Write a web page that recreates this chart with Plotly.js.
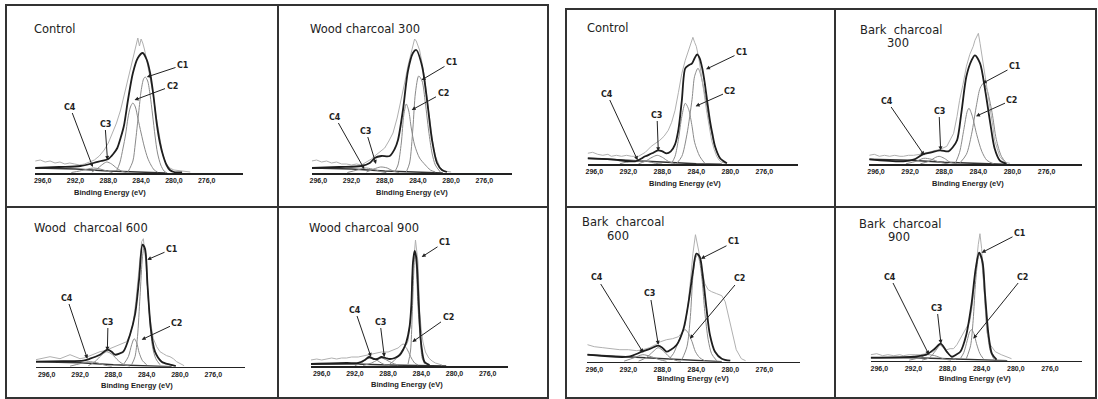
<!DOCTYPE html>
<html><head><meta charset="utf-8">
<script src="https://cdn.plot.ly/plotly-3.0.1.min.js"></script>
<style>html,body{margin:0;padding:0;background:#fff;}#chart{width:1098px;height:399px;}</style>
</head><body><div id="chart"></div>
<script>
// ---------- DATA (binding energy eV, intensity in arbitrary units) ----------
const tickVals = [296,292,288,284,280,276];
const tickText = ['296,0','292,0','288,0','284,0','280,0','276,0'];
const panelTitles = [['Control'],['Wood charcoal 300'],['Control'],['Bark\u00a0\u00a0charcoal','300'],
  ['Wood\u00a0\u00a0charcoal 600'],['Wood charcoal 900'],['Bark\u00a0\u00a0charcoal','600'],['Bark\u00a0\u00a0charcoal','900']];
const xTitle = 'Binding Energy (eV)';

// Panel 1: Control (wood side)
const p1_raw = [[296.9,12],[296.3,13],[295.7,11],[295.1,12],[294.5,10],[293.9,11],[293.3,9],[292.7,10],[292.1,9],[291.5,8],[290.9,9],[290.3,11],[289.7,13],[289.1,17],[288.5,23],[288.0,30],[287.5,40],[287.0,50],[286.5,63],[286.0,80],[285.5,95],[285.0,112],[284.6,128],[284.4,135],[284.2,127],[284.0,134],[283.8,130],[283.6,124],[283.3,112],[283.0,100],[282.6,82],[282.2,58],[281.8,38],[281.4,20],[281.0,10],[280.5,5],[280.0,3],[279.0,2],[278.0,1]];
const p1_env = [[296.9,5],[294.0,6],[291.4,7],[289.8,10],[288.9,12],[288.0,14],[287.4,19],[286.9,25],[286.5,35],[286.1,47],[285.6,73],[285.0,100],[284.4,115],[283.8,120],[283.3,113],[282.9,100],[282.5,78],[282.1,50],[281.7,30],[281.3,17],[280.9,8],[280.5,3],[280.0,1],[279.0,0.5]];
const p1_c1 = [[285.6,1],[285.0,12],[284.7,30],[284.3,60],[284.0,82],[283.7,94],[283.5,96],[283.2,92],[282.9,78],[282.6,58],[282.3,37],[282.0,20],[281.6,8],[281.2,2],[280.8,0]];
const p1_c2 = [[287.0,2],[286.6,10],[286.2,25],[285.9,38],[285.6,55],[285.3,66],[285.0,70],[284.7,66],[284.4,55],[284.0,40],[283.6,26],[283.2,15],[282.8,8],[282.4,3],[282.0,1]];
const p1_c3 = [[290.0,1],[289.4,4],[288.8,8],[288.2,11],[287.6,9],[287.0,5],[286.4,2],[285.8,0.5]];
const p1_c4 = [[292.5,0.5],[291.5,2],[290.5,4],[289.8,5],[289.0,4],[288.2,2],[287.5,0.5]];
const p1_base = [[296.9,5],[292,4],[288,2],[284,0.5],[281,0]];

// Panel 2: Wood charcoal 300
const p2_raw = [[296.8,12],[296.2,13],[295.6,11],[295.0,12],[294.4,10],[293.8,11],[293.2,9],[292.6,9],[292.0,8],[291.4,9],[290.8,8],[290.2,11],[289.6,14],[289.2,17],[288.6,21],[288.0,25],[287.5,32],[287.0,40],[286.5,55],[286.0,73],[285.6,90],[285.2,107],[284.9,118],[284.6,127],[284.4,134],[284.2,132],[284.0,128],[283.8,123],[283.5,110],[283.1,90],[282.8,68],[282.5,47],[282.2,30],[281.9,17],[281.6,10],[281.3,5],[280.8,2],[280.0,1]];
const p2_env = [[296.8,5],[293.5,6],[290.8,7],[289.8,10],[289.2,15],[288.4,17],[287.4,17],[286.8,24],[286.4,33],[285.8,63],[285.2,102],[284.6,120],[284.2,123],[283.5,107],[282.9,73],[282.3,33],[281.7,10],[281.1,3],[280.5,1]];
const p2_c1 = [[285.4,1],[285.0,10],[284.6,45],[284.3,80],[283.9,97],[283.5,92],[283.1,70],[282.7,42],[282.3,20],[281.9,8],[281.3,1]];
const p2_c2 = [[286.8,1],[286.4,8],[286.0,30],[285.7,58],[285.4,69],[285.1,62],[284.8,45],[284.4,28],[283.8,15],[283.1,8],[282.5,3],[281.9,1]];
const p2_c3 = [[290.2,1],[289.3,4],[288.5,6],[287.7,5],[287.0,2],[286.3,0.5]];
const p2_c4 = [[292.5,0.5],[291.3,3],[290.4,5],[289.5,4],[288.5,1.5],[287.8,0.3]];
const p2_base = [[296.8,5],[292,4],[288,2],[284,0.5],[281,0]];

// Panel 3: Control (bark side)
const p3_raw = [[296.8,11],[296.2,12],[295.6,10],[295.0,9],[294.4,10],[294.0,8],[293.4,9],[292.8,8],[292.2,9],[291.6,8],[290.8,8],[290.0,12],[289.3,18],[288.8,21],[288.3,24],[287.8,28],[287.3,34],[286.9,42],[286.5,54],[286.1,72],[285.7,91],[285.3,104],[284.9,114],[284.6,121],[284.4,127],[284.2,122],[284.0,118],[283.7,106],[283.4,91],[283.1,72],[282.8,54],[282.5,38],[282.2,24],[281.9,15],[281.6,8],[281.3,4],[281.0,2],[280.4,1]];
const p3_env = [[296.8,6],[294.0,5],[291.2,3],[290.0,8],[289.2,11],[288.5,14],[288.0,13],[287.5,11],[287.0,13],[286.5,20],[286.1,35],[285.7,64],[285.3,96],[284.9,99],[284.5,101],[284.2,106],[283.9,110],[283.6,106],[283.3,96],[283.0,81],[282.7,62],[282.4,44],[282.1,30],[281.8,18],[281.2,6],[280.4,1]];
const p3_c1 = [[286.3,1],[285.7,8],[285.1,30],[284.5,65],[284.2,88],[283.8,96],[283.5,90],[283.0,70],[282.4,40],[281.8,18],[281.2,6],[280.6,1]];
const p3_c2 = [[286.9,1],[286.5,8],[286.1,25],[285.7,48],[285.3,61],[284.9,55],[284.5,38],[284.2,22],[283.6,8],[283.0,1]];
const p3_c3 = [[290.8,0.5],[290.0,3],[289.2,7],[288.6,9],[288.0,7],[287.3,3],[286.5,0.5]];
const p3_c4 = [[293.0,0.5],[291.8,3],[290.8,4],[289.8,3],[288.8,1],[288.0,0.2]];
const p3_base = [[296.8,6],[292,4],[288,2],[284,0.5],[281,0]];

// Panel 4: Bark charcoal 300
const p4_raw = [[296.8,9],[296.2,10],[295.6,8],[295.0,9],[294.4,8],[293.8,9],[293.2,8],[292.8,8],[292.2,9],[291.6,9],[290.8,10],[290.0,12],[289.3,13],[288.5,15],[287.7,18],[287.3,24],[286.9,31],[286.5,48],[286.2,64],[285.8,80],[285.4,98],[285.0,110],[284.6,118],[284.4,124],[284.2,128],[284.0,131],[283.8,121],[283.5,105],[283.2,88],[282.9,70],[282.6,54],[282.3,38],[282.1,24],[281.8,15],[281.5,8],[280.9,2],[280.3,1]];
const p4_env = [[296.8,5],[292.8,3],[291.5,5],[290.5,10],[289.5,12],[288.5,14],[287.5,13],[287.0,17],[286.5,24],[286.0,51],[285.4,88],[284.8,104],[284.4,109],[283.8,101],[283.2,74],[282.6,41],[282.1,16],[281.5,4],[280.7,0.5]];
const p4_c1 = [[286.2,1],[285.4,10],[284.8,30],[284.2,60],[283.8,76],[283.4,81],[283.0,75],[282.4,52],[281.9,25],[281.3,8],[280.7,1]];
const p4_c2 = [[286.7,1],[286.2,12],[285.7,35],[285.3,53],[285.1,56],[284.7,48],[284.2,30],[283.6,13],[283.0,4],[282.2,0.5]];
const p4_c3 = [[290.8,0.5],[289.8,3],[289.0,7],[288.6,8],[288.0,6],[287.3,2],[286.5,0.5]];
const p4_c4 = [[292.5,0.5],[291.3,3],[290.4,6],[289.5,5],[288.5,2],[287.5,0.3]];
const p4_base = [[296.8,5],[292,4],[288,2],[284,0.5],[281,0]];

// Panel 5: Wood charcoal 600
const p5_raw = [[297.3,7],[296.8,8],[296.2,9],[295.6,10],[295.0,9],[294.4,8],[293.8,10],[293.2,12],[292.6,10],[292.0,8],[291.4,9],[290.8,11],[290.2,13],[289.6,15],[289.0,16],[288.4,18],[287.8,20],[287.2,22],[286.8,23],[286.4,25],[286.0,32],[285.6,45],[285.3,65],[285.0,88],[284.8,108],[284.6,125],[284.4,128],[284.2,112],[284.1,105],[283.9,80],[283.7,55],[283.4,38],[283.2,28],[282.8,20],[282.4,15],[282.0,13],[281.6,11],[281.2,10],[280.8,8],[280.4,5],[280.0,3],[279.5,1]];
const p5_env = [[297.3,5],[294.0,5.5],[291.6,6],[290.8,8],[289.6,12],[288.7,17],[288.2,15],[287.8,12],[287.3,13],[286.8,15],[286.0,32],[285.4,52],[284.9,88],[284.5,122],[284.2,118],[283.9,82],[283.5,38],[283.0,15],[282.2,5],[281.2,2],[280.5,0.5]];
const p5_c1 = [[285.8,2],[285.4,10],[285.1,30],[284.8,70],[284.5,110],[284.3,120],[284.1,112],[283.9,80],[283.6,45],[283.3,20],[282.9,8],[282.4,2]];
const p5_c2 = [[286.8,2],[286.2,10],[285.8,22],[285.5,28],[285.2,24],[284.9,14],[284.5,6],[284.0,2]];
const p5_c3 = [[291.0,1],[290.2,5],[289.5,11],[288.8,15],[288.1,12],[287.4,6],[286.7,2],[286.0,0.5]];
const p5_c4 = [[293.2,0.5],[292.0,3],[291.0,5],[290.0,4],[289.0,1.5],[288.2,0.3]];
const p5_base = [[297.3,5],[292,4],[288,2],[284,0.5],[281,0]];

// Panel 6: Wood charcoal 900
const p6_raw = [[297.3,6],[296.6,7],[296.0,6],[295.4,7],[294.8,8],[294.2,7],[293.6,8],[293.0,8],[292.4,9],[291.6,9],[291.0,10],[290.4,11],[289.6,13],[288.8,14],[288.0,14],[287.4,16],[286.8,18],[286.4,21],[286.2,22],[285.8,21],[285.6,25],[285.4,38],[285.2,60],[285.1,88],[284.9,110],[284.8,121],[284.7,126],[284.55,115],[284.4,104],[284.3,80],[284.2,54],[284.0,36],[283.8,24],[283.5,14],[283.1,8],[282.7,5],[282.3,3],[281.5,1]];
const p6_env = [[297.3,2],[293.0,3],[291.6,3],[290.8,6],[290.3,9],[289.7,7],[289.3,7],[288.8,9],[288.3,8],[287.8,7],[287.2,8],[286.6,11],[286.2,16],[285.8,24],[285.4,40],[285.2,61],[285.0,104],[284.8,115],[284.6,108],[284.3,61],[284.0,21],[283.6,4],[283.0,1]];
const p6_c1 = [[285.6,2],[285.3,15],[285.1,50],[284.9,95],[284.75,114],[284.6,100],[284.4,60],[284.1,25],[283.9,8],[283.6,2]];
const p6_c2 = [[287.8,2],[287.2,6],[286.6,12],[286.2,17],[285.9,19],[285.6,15],[285.2,8],[284.8,3],[284.4,1]];
const p6_c3 = [[291.0,0.5],[290.0,3],[289.3,6],[288.8,8],[288.2,6],[287.5,3],[286.8,1]];
const p6_c4 = [[292.0,0.5],[291.2,3],[290.6,7],[290.0,8],[289.4,6],[288.6,2],[287.8,0.3]];
const p6_base = [[297.3,2],[292,2],[288,1],[284,0.3],[281,0]];

// Panel 7: Bark charcoal 600
const p7_raw = [[296.8,17],[296.0,15],[295.0,14],[294.0,13],[293.0,12],[292.0,12],[291.0,11],[290.3,12],[289.5,14],[288.8,17],[288.2,20],[287.5,22],[286.8,23],[286.1,25],[285.6,30],[285.3,37],[285.0,55],[284.7,80],[284.4,108],[284.1,127],[283.9,120],[283.7,110],[283.4,95],[283.0,78],[282.6,72],[282.2,70],[281.6,68],[281.0,66],[280.6,60],[280.2,45],[279.8,28],[279.3,12],[278.7,3],[278.2,1]];
const p7_env = [[296.8,7],[292.0,5],[290.4,10],[289.4,13],[288.5,16],[288.0,14],[287.5,10],[287.0,12],[286.3,17],[285.5,33],[284.9,60],[284.4,90],[284.0,108],[283.6,105],[283.2,83],[282.8,53],[282.4,27],[281.8,10],[281.0,3],[280.0,1]];
const p7_c1 = [[285.7,2],[285.1,15],[284.7,45],[284.4,85],[284.1,103],[283.85,107],[283.6,100],[283.3,80],[283.0,50],[282.6,22],[282.2,8],[281.6,1]];
const p7_c2 = [[287.3,2],[286.7,8],[286.1,20],[285.6,30],[285.3,32],[284.9,28],[284.5,20],[284.1,10],[283.6,4],[283.0,1]];
const p7_c3 = [[290.8,0.5],[289.9,4],[289.1,10],[288.5,14],[287.9,11],[287.2,5],[286.5,1.5],[285.8,0.3]];
const p7_c4 = [[292.5,0.5],[291.3,4],[290.3,7],[289.3,5],[288.3,2],[287.5,0.3]];
const p7_base = [[296.8,7],[292,5],[288,3],[284,1],[281,0]];

// Panel 8: Bark charcoal 900
const p8_raw = [[297.0,6],[296.3,7],[295.6,5],[295.0,6],[294.3,5],[293.6,6],[293.2,5],[292.5,6],[291.8,6],[291.2,6],[290.5,7],[289.7,9],[289.2,13],[288.9,16],[288.5,13],[288.1,11],[287.7,12],[287.3,12],[286.9,16],[286.5,22],[286.0,29],[285.7,34],[285.4,39],[285.1,55],[284.8,82],[284.6,100],[284.4,116],[284.2,127],[284.0,112],[283.85,90],[283.7,66],[283.4,29],[283.0,16],[282.4,9],[281.7,6],[281.1,4],[280.5,2]];
const p8_env = [[297.0,3],[292.0,4],[290.5,6],[289.5,12],[288.8,17],[288.1,9],[287.5,4],[287.0,6],[286.5,9],[285.8,26],[285.2,56],[284.7,92],[284.3,108],[283.9,99],[283.6,66],[283.2,26],[282.8,7],[282.25,1]];
const p8_c1 = [[285.8,2],[285.3,15],[285.0,40],[284.7,80],[284.4,103],[284.2,107],[284.0,100],[283.7,70],[283.4,35],[283.0,10],[282.6,2]];
const p8_c2 = [[286.5,2],[286.1,8],[285.7,20],[285.4,29],[285.2,31],[284.9,27],[284.6,17],[284.2,7],[283.8,2]];
const p8_c3 = [[291.0,0.5],[290.1,3],[289.4,10],[288.8,16],[288.2,11],[287.6,4],[287.0,1]];
const p8_c4 = [[292.5,0.5],[291.3,3],[290.4,6],[289.5,5],[288.5,2],[287.6,0.3]];
const p8_base = [[297.0,3],[292,3],[288,2],[284,0.5],[281,0]];

// Peak label targets: [label, energy, intensity]
const p1_labels = [['C1',283.3,96],['C2',284.8,73],['C3',288.1,13],['C4',289.9,6]];
const p2_labels = [['C1',283.55,93],['C2',284.75,63],['C3',289.05,9],['C4',290.46,4]];
const p3_labels = [['C1',282.86,95],['C2',284.08,58],['C3',288.47,13],['C4',290.9,4]];
const p4_labels = [['C1',283.5,81],['C2',284.28,48],['C3',288.42,14],['C4',290.34,9]];
const p5_labels = [['C1',283.92,107],['C2',284.6,27],['C3',288.72,16],['C4',291.12,8]];
const p6_labels = [['C1',283.95,109],['C2',285.08,24],['C3',288.45,9],['C4',290.06,9]];
const p7_labels = [['C1',283.45,103],['C2',284.75,23],['C3',288.47,17],['C4',290.24,9]];
const p8_labels = [['C1',284.0,108],['C2',284.98,22],['C3',288.77,17],['C4',290.18,6]];

// ---------- LAYOUT GEOMETRY (pixels) ----------
const W = 1098, H = 399, YH = 150;
const geom = [
  {ay:173,   xl:35,    xr:243,    x296:42.7,  ppe:8.2,  tx:32,  ty:29,  t2:null,      atx:110, aty:193, lab:[[183,65],[172,86],[105,124],[70,107]]},
  {ay:173,   xl:312,   xr:512,    x296:318.3, ppe:8.3,  tx:308, ty:29,  t2:null,      atx:412, aty:193, lab:[[452,62],[443,93],[366,131],[335,117]]},
  {ay:164.3, xl:587.7, xr:798.3,  x296:594.3, ppe:8.5,  tx:585, ty:28,  t2:null,      atx:685, aty:183, lab:[[742,52],[730,91],[657,115],[607,94]]},
  {ay:164.3, xl:869.3, xr:1081.7, x296:876,   ppe:8.53, tx:858, ty:30,  t2:[885,43],  atx:968, aty:183, lab:[[1015,66],[1012,100],[939,111],[887,101]]},
  {ay:366.7, xl:36,    xr:245,    x296:46.7,  ppe:8.33, tx:32,  ty:228, t2:null,      atx:137, aty:385, lab:[[172,249],[177,323],[108,322],[67,298]]},
  {ay:366,   xl:311,   xr:508.3,  x296:321.7, ppe:8.3,  tx:307, ty:228, t2:null,      atx:407, aty:384, lab:[[445,242],[448,317],[380,322],[355,310]]},
  {ay:361.7, xl:586.7, xr:800,    x296:594.3, ppe:8.5,  tx:580, ty:222, t2:[605,236], atx:693, aty:378, lab:[[734,242],[740,279],[650,294],[597,278]]},
  {ay:360.7, xl:870.7, xr:1081.7, x296:879.3, ppe:8.53, tx:857, ty:224, t2:[886,237], atx:975, aty:378, lab:[[1020,233],[1023,277],[937,308],[890,277]]}
];
const panelData = [
  [p1_base,p1_c1,p1_c2,p1_c3,p1_c4,p1_raw,p1_env,p1_labels],
  [p2_base,p2_c1,p2_c2,p2_c3,p2_c4,p2_raw,p2_env,p2_labels],
  [p3_base,p3_c1,p3_c2,p3_c3,p3_c4,p3_raw,p3_env,p3_labels],
  [p4_base,p4_c1,p4_c2,p4_c3,p4_c4,p4_raw,p4_env,p4_labels],
  [p5_base,p5_c1,p5_c2,p5_c3,p5_c4,p5_raw,p5_env,p5_labels],
  [p6_base,p6_c1,p6_c2,p6_c3,p6_c4,p6_raw,p6_env,p6_labels],
  [p7_base,p7_c1,p7_c2,p7_c3,p7_c4,p7_raw,p7_env,p7_labels],
  [p8_base,p8_c1,p8_c2,p8_c3,p8_c4,p8_raw,p8_env,p8_labels]
];

const FONT = 'Arial, "Liberation Sans", Helvetica, sans-serif';
const WIDEFONT = '"DejaVu Sans", Verdana, sans-serif';
const fx = px => px / W;
const fy = py => 1 - py / H;

const traces = [];
const layout = {
  width: W, height: H, margin: {l:0, r:0, t:0, b:0},
  paper_bgcolor: '#fff', plot_bgcolor: 'rgba(0,0,0,0)',
  showlegend: false, font: {family: FONT, color: '#222'},
  annotations: [], shapes: []
};

const styles = [
  {color:'#333', width:1.4, shape:'linear'},   // baseline
  {color:'#8a8a8a', width:1, shape:'spline'},  // C1
  {color:'#8a8a8a', width:1, shape:'spline'},  // C2
  {color:'#8a8a8a', width:1, shape:'spline'},  // C3
  {color:'#8a8a8a', width:1, shape:'spline'},  // C4
  {color:'#b0b0b0', width:1, shape:'linear'},  // raw
  {color:'#1e1e1e', width:1.8, shape:'spline'} // envelope
];

geom.forEach((g, i) => {
  const sfx = i === 0 ? '' : String(i + 1);
  const eLeft = 296 + (g.x296 - g.xl) / g.ppe;
  const eRight = 296 - (g.xr - g.x296) / g.ppe;
  layout['xaxis' + sfx] = {
    domain: [fx(g.xl), fx(g.xr)], range: [eLeft, eRight], anchor: 'y' + sfx,
    showline: true, linecolor: '#222', linewidth: 1.6, showgrid: false, zeroline: false,
    ticks: '', tickvals: tickVals, ticktext: tickText,
    tickfont: {family: FONT, size: 7, color: '#222', weight: 'bold'}
  };
  layout['yaxis' + sfx] = {
    domain: [fy(g.ay), fy(g.ay - YH)], range: [0, YH], anchor: 'x' + sfx, visible: false
  };
  const d = panelData[i];
  for (let k = 0; k < 7; k++) {
    const arr = d[k];
    traces.push({
      type: 'scatter', mode: 'lines', xaxis: 'x' + sfx, yaxis: 'y' + sfx,
      x: arr.map(p => p[0]), y: arr.map(p => p[1]),
      line: {color: styles[k].color, width: styles[k].width, shape: styles[k].shape, smoothing: 0.8},
      hoverinfo: 'skip'
    });
  }
  // peak labels with arrows
  d[7].forEach((lb, j) => {
    const tpx = g.x296 + (296 - lb[1]) * g.ppe;
    const tpy = g.ay - lb[2];
    layout.annotations.push({
      xref: 'x' + sfx, yref: 'y' + sfx, x: lb[1], y: lb[2], text: lb[0],
      showarrow: true, arrowhead: 2, arrowsize: 0.8, arrowwidth: 1, arrowcolor: '#222',
      ax: g.lab[j][0] - tpx, ay: g.lab[j][1] - tpy, standoff: 0,
      font: {family: WIDEFONT, size: 8, color: '#222', weight: 'bold'}
    });
  });
  // panel title
  const t = panelTitles[i];
  layout.annotations.push({xref:'paper', yref:'paper', x: fx(g.tx), y: fy(g.ty), xanchor:'left', yanchor:'middle',
    text: t[0], showarrow:false, font:{family: WIDEFONT, size: 11.5, color:'#222'}});
  if (t.length > 1 && g.t2) {
    layout.annotations.push({xref:'paper', yref:'paper', x: fx(g.t2[0]), y: fy(g.t2[1]), xanchor:'left', yanchor:'middle',
      text: t[1], showarrow:false, font:{family: WIDEFONT, size: 11.5, color:'#222'}});
  }
  // axis title
  layout.annotations.push({xref:'paper', yref:'paper', x: fx(g.atx), y: fy(g.aty), xanchor:'center', yanchor:'middle',
    text: xTitle, showarrow:false, font:{family: FONT, size: 7.5, color:'#222', weight:'bold'}});
});

// frame lines
function line(x0, y0, x1, y1) {
  layout.shapes.push({type:'line', xref:'paper', yref:'paper', x0: fx(x0), y0: fy(y0), x1: fx(x1), y1: fy(y1),
    line:{color:'#333', width:2}});
}
function rect(x0, y0, x1, y1) {
  layout.shapes.push({type:'rect', xref:'paper', yref:'paper', x0: fx(x0), y0: fy(y0), x1: fx(x1), y1: fy(y1),
    line:{color:'#333', width:2}, fillcolor:'rgba(0,0,0,0)'});
}
rect(6, 5, 548, 398); line(278, 5, 278, 398); line(6, 207, 548, 207);
rect(566, 9, 1096, 398); line(835, 9, 835, 398); line(566, 207, 1096, 207);

Plotly.newPlot('chart', traces, layout, {displayModeBar: false, staticPlot: true});
</script>
</body></html>
